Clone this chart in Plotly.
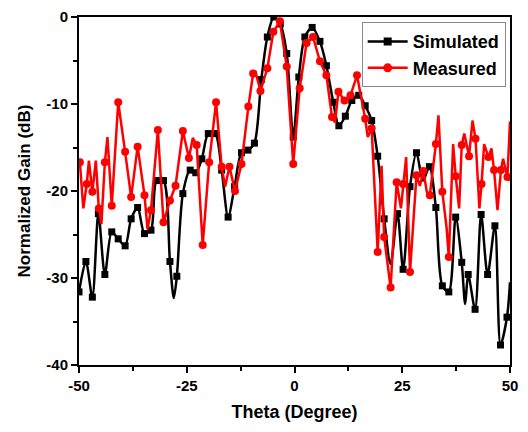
import plotly.graph_objects as go

# ---------------- data ----------------
# Simulated: marked points
sim_theta = [-50, -48.4, -46.9, -45.5, -44.0, -42.4, -40.9, -39.3, -37.9, -36.4, -34.8, -33.3,
             -32.0, -30.4, -28.9, -27.3, -25.9, -24.2, -22.9, -21.5, -20.0, -18.4, -16.9, -15.4,
             -13.9, -12.3, -10.8, -9.3, -7.7, -6.3, -4.8, -3.3, -1.8, -0.3, 1.0, 2.4, 4.1, 5.9,
             7.4, 9.0, 10.3, 11.8, 13.3, 14.9, 16.4, 17.9, 19.3, 20.8, 23.9, 25.2, 26.8, 28.3,
             31.3, 32.8, 34.3, 35.8, 37.4, 38.8, 40.3, 41.9, 43.3, 44.8, 46.5, 47.8, 49.3]
sim_gain = [-31.6, -28.1, -32.2, -22.6, -29.6, -24.7, -25.5, -26.3, -23.2, -21.9, -24.9, -24.5,
            -18.8, -18.8, -28.1, -29.8, -20.3, -17.6, -17.9, -16.3, -13.4, -13.4, -17.6, -23.0,
            -19.5, -15.6, -15.3, -14.5, -7.2, -2.3, 0.0, -0.8, -4.2, -13.8, -6.9, -2.3, -1.2, -2.8,
            -5.6, -9.8, -12.5, -11.4, -9.6, -9.0, -10.2, -11.9, -16.0, -23.2, -22.6, -29.0, -19.5, -15.6,
            -17.2, -21.9, -30.9, -31.6, -23.0, -28.2, -29.6, -33.6, -22.7, -29.6, -24.0, -37.7, -34.5]
# Simulated: unmarked curve points
sim_theta_extra = [-28.0, 22.3, 29.8, 39.6, 50.0]
sim_gain_extra = [-32.3, -28.4, -18.8, -33.0, -30.5]

# Measured: marked points
meas_theta = [-49.8, -48.2, -46.9, -45.4, -44.0, -42.4, -40.9, -39.3, -37.9, -36.4, -34.8, -33.3,
              -31.7, -30.4, -28.9, -27.6, -25.9, -24.5, -22.7, -21.3, -19.8, -18.2, -16.9, -15.1,
              -13.8, -12.3, -10.7, -9.6, -7.9, -6.3, -4.9, -3.4, -1.8, -0.3, 1.2, 2.8, 4.3, 5.9,
              7.4, 8.7, 10.2, 11.6, 13.0, 14.5, 16.4, 17.9, 19.3, 20.8, 22.3, 23.7, 25.2, 26.8,
              28.3, 29.9, 31.4, 32.8, 34.3, 35.8, 37.4, 38.8, 40.5, 42.0, 43.4, 45.0, 46.3, 47.9, 49.4]
meas_gain = [-16.7, -19.2, -20.1, -22.0, -16.7, -21.7, -9.8, -15.5, -20.7, -14.9, -20.5, -22.2,
             -13.0, -23.6, -21.1, -19.4, -13.1, -16.2, -14.7, -26.2, -16.7, -9.8, -17.2, -17.2,
             -20.0, -16.9, -10.3, -6.5, -8.5, -5.9, -1.7, -0.5, -5.7, -16.9, -8.2, -3.0, -2.3, -5.1,
             -6.7, -11.5, -8.6, -9.6, -9.0, -6.7, -11.7, -12.8, -27.0, -25.3, -31.1, -19.0, -19.2, -29.3,
             -18.2, -17.7, -20.5, -14.6, -20.1, -27.6, -18.3, -14.7, -16.0, -14.0, -19.2, -16.1, -17.6, -17.6, -18.4]
# Measured: unmarked line points
meas_theta_extra = [-49.0, -47.7, -46.1, -44.8, -43.4, -34.1, -23.6, -16.1, -9.1, 9.4, 17.0, 20.2,
                    24.7, 25.9, 29.1, 30.7, 33.4, 35.3, 36.8, 38.2, 39.4, 41.3, 42.9, 44.0, 45.7,
                    47.1, 48.4, 50.0]
meas_gain_extra = [-22.0, -16.5, -16.5, -23.8, -13.8, -24.4, -13.9, -19.5, -6.2, -12.1, -13.8, -17.1,
                   -22.0, -16.1, -19.4, -20.1, -11.3, -24.3, -14.6, -22.0, -13.4, -11.9, -22.0, -14.6, -15.1,
                   -22.2, -16.3, -12.0]

x_ticks = [-50, -25, 0, 25, 50]
y_ticks = [0, -10, -20, -30, -40]


def merged(t1, g1, t2, g2):
    pts = sorted(zip(t1 + t2, g1 + g2))
    return [p[0] for p in pts], [p[1] for p in pts]


sim_line_x, sim_line_y = merged(sim_theta, sim_gain, sim_theta_extra, sim_gain_extra)
meas_line_x, meas_line_y = merged(meas_theta, meas_gain, meas_theta_extra, meas_gain_extra)

FONT = "Arial, Liberation Sans, sans-serif"
BLACK = "#000000"
RED = "#ff0000"

fig = go.Figure()

# simulated
fig.add_trace(go.Scatter(x=sim_line_x, y=sim_line_y, mode="lines",
                         line=dict(color=BLACK, width=2.5, shape="spline", smoothing=0.8),
                         showlegend=False, hoverinfo="skip"))
fig.add_trace(go.Scatter(x=sim_theta, y=sim_gain, mode="markers",
                         marker=dict(symbol="square", size=7, color=BLACK),
                         showlegend=False))
# measured
fig.add_trace(go.Scatter(x=meas_line_x, y=meas_line_y, mode="lines",
                         line=dict(color=RED, width=2.5),
                         showlegend=False, hoverinfo="skip"))
fig.add_trace(go.Scatter(x=meas_theta, y=meas_gain, mode="markers",
                         marker=dict(symbol="circle", size=8, color=RED),
                         showlegend=False))

# legend entries
fig.add_trace(go.Scatter(x=[None], y=[None], mode="lines+markers", name="Simulated",
                         line=dict(color=BLACK, width=2.5),
                         marker=dict(symbol="square", size=8, color=BLACK)))
fig.add_trace(go.Scatter(x=[None], y=[None], mode="lines+markers", name="Measured",
                         line=dict(color=RED, width=2.5),
                         marker=dict(symbol="circle", size=9, color=RED)))

axis_common = dict(
    showgrid=False, zeroline=False, automargin=False,
    showline=True, linecolor=BLACK, linewidth=2, mirror=True,
    ticks="outside", tickwidth=2, ticklen=6, tickcolor=BLACK,
    tickfont=dict(family=FONT, size=15, color=BLACK, weight="bold"),
)

fig.update_xaxes(
    range=[-50, 50], tickvals=x_ticks, ticktext=[str(v) for v in x_ticks],
    minor=dict(dtick=12.5, tick0=-50, ticks="outside", ticklen=4, tickwidth=2, tickcolor=BLACK),
    title=dict(text="Theta (Degree)", font=dict(family=FONT, size=18, color=BLACK, weight="bold"),
               standoff=12),
    **axis_common)
fig.update_yaxes(
    range=[-40, 0], tickvals=y_ticks, ticktext=[str(v) for v in y_ticks],
    minor=dict(dtick=5, tick0=0, ticks="outside", ticklen=4, tickwidth=2, tickcolor=BLACK),
    title=dict(text="Normalized Gain (dB)", font=dict(family=FONT, size=17, color=BLACK, weight="bold"),
               standoff=11),
    **axis_common)

# page body has an 8px margin; figure sized/offset to land the plot where the reference has it
fig.update_layout(
    width=520, height=424,
    margin=dict(l=71, r=18, t=9, b=67, autoexpand=False),
    paper_bgcolor="white", plot_bgcolor="white",
    legend=dict(x=0.99, y=0.985, xanchor="right", yanchor="top",
                bgcolor="white", bordercolor="#888888", borderwidth=1,
                font=dict(family=FONT, size=18, color=BLACK, weight="bold"),
                itemwidth=40, tracegroupgap=0),
)

fig.write_html("out.html")
